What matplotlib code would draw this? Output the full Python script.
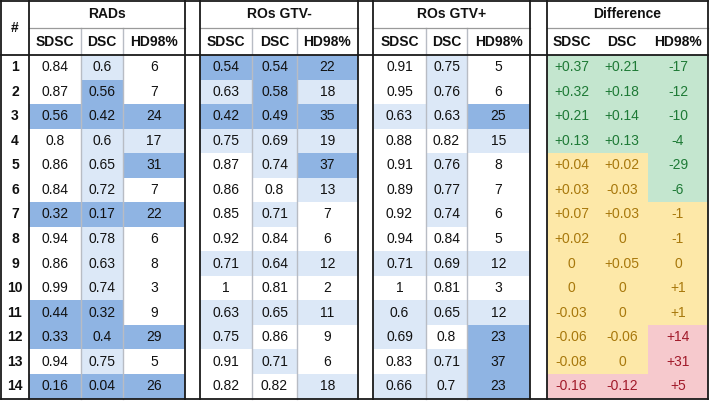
import matplotlib.pyplot as plt
from matplotlib.patches import Rectangle

plt.rcParams['font.family'] = ['Liberation Sans', 'DejaVu Sans']

# table contents
case_ids = list(range(1, 15))
metrics = ['SDSC', 'DSC', 'HD98%']
groups = ['RADs', 'ROs GTV-', 'ROs GTV+']

rads_sdsc = [0.84, 0.87, 0.56, 0.8, 0.86, 0.84, 0.32, 0.94, 0.86, 0.99, 0.44, 0.33, 0.94, 0.16]
rads_dsc = [0.6, 0.56, 0.42, 0.6, 0.65, 0.72, 0.17, 0.78, 0.63, 0.74, 0.32, 0.4, 0.75, 0.04]
rads_hd = [6, 7, 24, 17, 31, 7, 22, 6, 8, 3, 9, 29, 5, 26]

gtvm_sdsc = [0.54, 0.63, 0.42, 0.75, 0.87, 0.86, 0.85, 0.92, 0.71, 1, 0.63, 0.75, 0.91, 0.82]
gtvm_dsc = [0.54, 0.58, 0.49, 0.69, 0.74, 0.8, 0.71, 0.84, 0.64, 0.81, 0.65, 0.86, 0.71, 0.82]
gtvm_hd = [22, 18, 35, 19, 37, 13, 7, 6, 12, 2, 11, 9, 6, 18]

gtvp_sdsc = [0.91, 0.95, 0.63, 0.88, 0.91, 0.89, 0.92, 0.94, 0.71, 1, 0.6, 0.69, 0.83, 0.66]
gtvp_dsc = [0.75, 0.76, 0.63, 0.82, 0.76, 0.77, 0.74, 0.84, 0.69, 0.81, 0.65, 0.8, 0.71, 0.7]
gtvp_hd = [5, 6, 25, 15, 8, 7, 6, 5, 12, 3, 12, 23, 37, 23]

diff_sdsc = ['+0.37', '+0.32', '+0.21', '+0.13', '+0.04', '+0.03', '+0.07', '+0.02',
             '0', '0', '-0.03', '-0.06', '-0.08', '-0.16']
diff_dsc = ['+0.21', '+0.18', '+0.14', '+0.13', '+0.02', '-0.03', '+0.03', '0',
            '+0.05', '0', '0', '-0.06', '0', '-0.12']
diff_hd = ['-17', '-12', '-10', '-4', '-29', '-6', '-1', '-1', '0', '+1', '+1', '+14', '+31', '+5']

group_data = [
    [rads_sdsc, rads_dsc, rads_hd],
    [gtvm_sdsc, gtvm_dsc, gtvm_hd],
    [gtvp_sdsc, gtvp_dsc, gtvp_hd],
]
diff_data = [diff_sdsc, diff_dsc, diff_hd]

# layout (pixels)
W, H = 710, 401
y_top, y_h1, y_h2, y_bot = 1, 28, 55, 398.5
row_h = (y_bot - y_h2) / len(case_ids)
id_col = (1, 29)
group_cols = [(29, 81, 123, 185), (200, 252, 297, 358), (373, 426, 467, 530)]
diff_cols = (547, 596, 648, 708)

MED = '#8fb4e3'
LIGHT = '#dce8f7'
GREEN, GREEN_TXT = '#c4e6cf', '#1e7a36'
YELLOW, YELLOW_TXT = '#fde8a8', '#a8780c'
RED, RED_TXT = '#f6c9cd', '#a11a2a'


def blue_shade(k, v):
    if k < 2:
        if v < 0.6:
            return MED
        if v < 0.8:
            return LIGHT
        return 'white'
    if v > 20:
        return MED
    if v > 10:
        return LIGHT
    return 'white'


def diff_style(k, s):
    v = float(s)
    lim = 3 if k == 2 else 0.1
    better = v < -lim if k == 2 else v > lim
    worse = v > lim if k == 2 else v < -lim
    if better:
        return GREEN, GREEN_TXT
    if worse:
        return RED, RED_TXT
    return YELLOW, YELLOW_TXT


fig = plt.figure(figsize=(W / 100, H / 100), dpi=100)
ax = fig.add_axes([0, 0, 1, 1])
ax.set_xlim(0, W)
ax.set_ylim(H, 0)
ax.axis('off')

fs = 10
bold = dict(fontsize=fs, fontweight='bold', ha='center', va='center', color='#111111')
norm = dict(fontsize=fs, ha='center', va='center', color='#111111')

# id column
ax.text(sum(id_col) / 2, (y_top + y_h2) / 2, '#', **bold)
for i, c in enumerate(case_ids):
    yc = y_h2 + (i + 0.5) * row_h
    ax.text(sum(id_col) / 2, yc, str(c), **bold)

# blue-shaded groups
for g, (name, cols) in enumerate(zip(groups, group_cols)):
    ax.text((cols[0] + cols[-1]) / 2, (y_top + y_h1) / 2, name, **bold)
    for k, m in enumerate(metrics):
        x0, x1 = cols[k], cols[k + 1]
        ax.text((x0 + x1) / 2, (y_h1 + y_h2) / 2 + 0.5, m, **bold)
        for i, v in enumerate(group_data[g][k]):
            y0 = y_h2 + i * row_h
            ax.add_patch(Rectangle((x0, y0), x1 - x0, row_h, facecolor=blue_shade(k, v),
                                   edgecolor='none', zorder=0))
            ax.text((x0 + x1) / 2, y0 + row_h / 2, f'{v:g}', **norm)
        if k > 0:
            ax.plot([x0, x0], [y_h1, y_bot], color='#b8bcc4', lw=1.0, zorder=2)
    ax.plot([cols[0], cols[-1]], [y_h1, y_h1], color='#9a9a9a', lw=0.9, zorder=2)

# difference group
ax.text((diff_cols[0] + diff_cols[-1]) / 2, (y_top + y_h1) / 2, 'Difference', **bold)
for k, m in enumerate(metrics):
    x0, x1 = diff_cols[k], diff_cols[k + 1]
    ax.text((x0 + x1) / 2, (y_h1 + y_h2) / 2 + 0.5, m, **bold)
    for i, s in enumerate(diff_data[k]):
        y0 = y_h2 + i * row_h
        bg, tc = diff_style(k, s)
        ax.add_patch(Rectangle((x0, y0), x1 - x0, row_h, facecolor=bg,
                               edgecolor='none', zorder=0))
        ax.text((x0 + x1) / 2, y0 + row_h / 2, s, fontsize=fs, ha='center',
                va='center', color=tc)
ax.plot([diff_cols[0], diff_cols[-1]], [y_h1, y_h1], color='#9a9a9a', lw=0.9, zorder=2)

# black frame lines
black_x = [id_col[0], id_col[1]] + [x for c in group_cols for x in (c[0], c[-1])] \
    + [diff_cols[0], diff_cols[-1]]
for x in sorted(set(black_x)):
    ax.plot([x, x], [y_top, y_bot], color='#1a1a1a', lw=1.3, zorder=3)
for y in (y_top, y_h2, y_bot):
    ax.plot([id_col[0], diff_cols[-1]], [y, y], color='#1a1a1a', lw=1.3, zorder=3)

fig.savefig('out.png', dpi=100, facecolor='white')
